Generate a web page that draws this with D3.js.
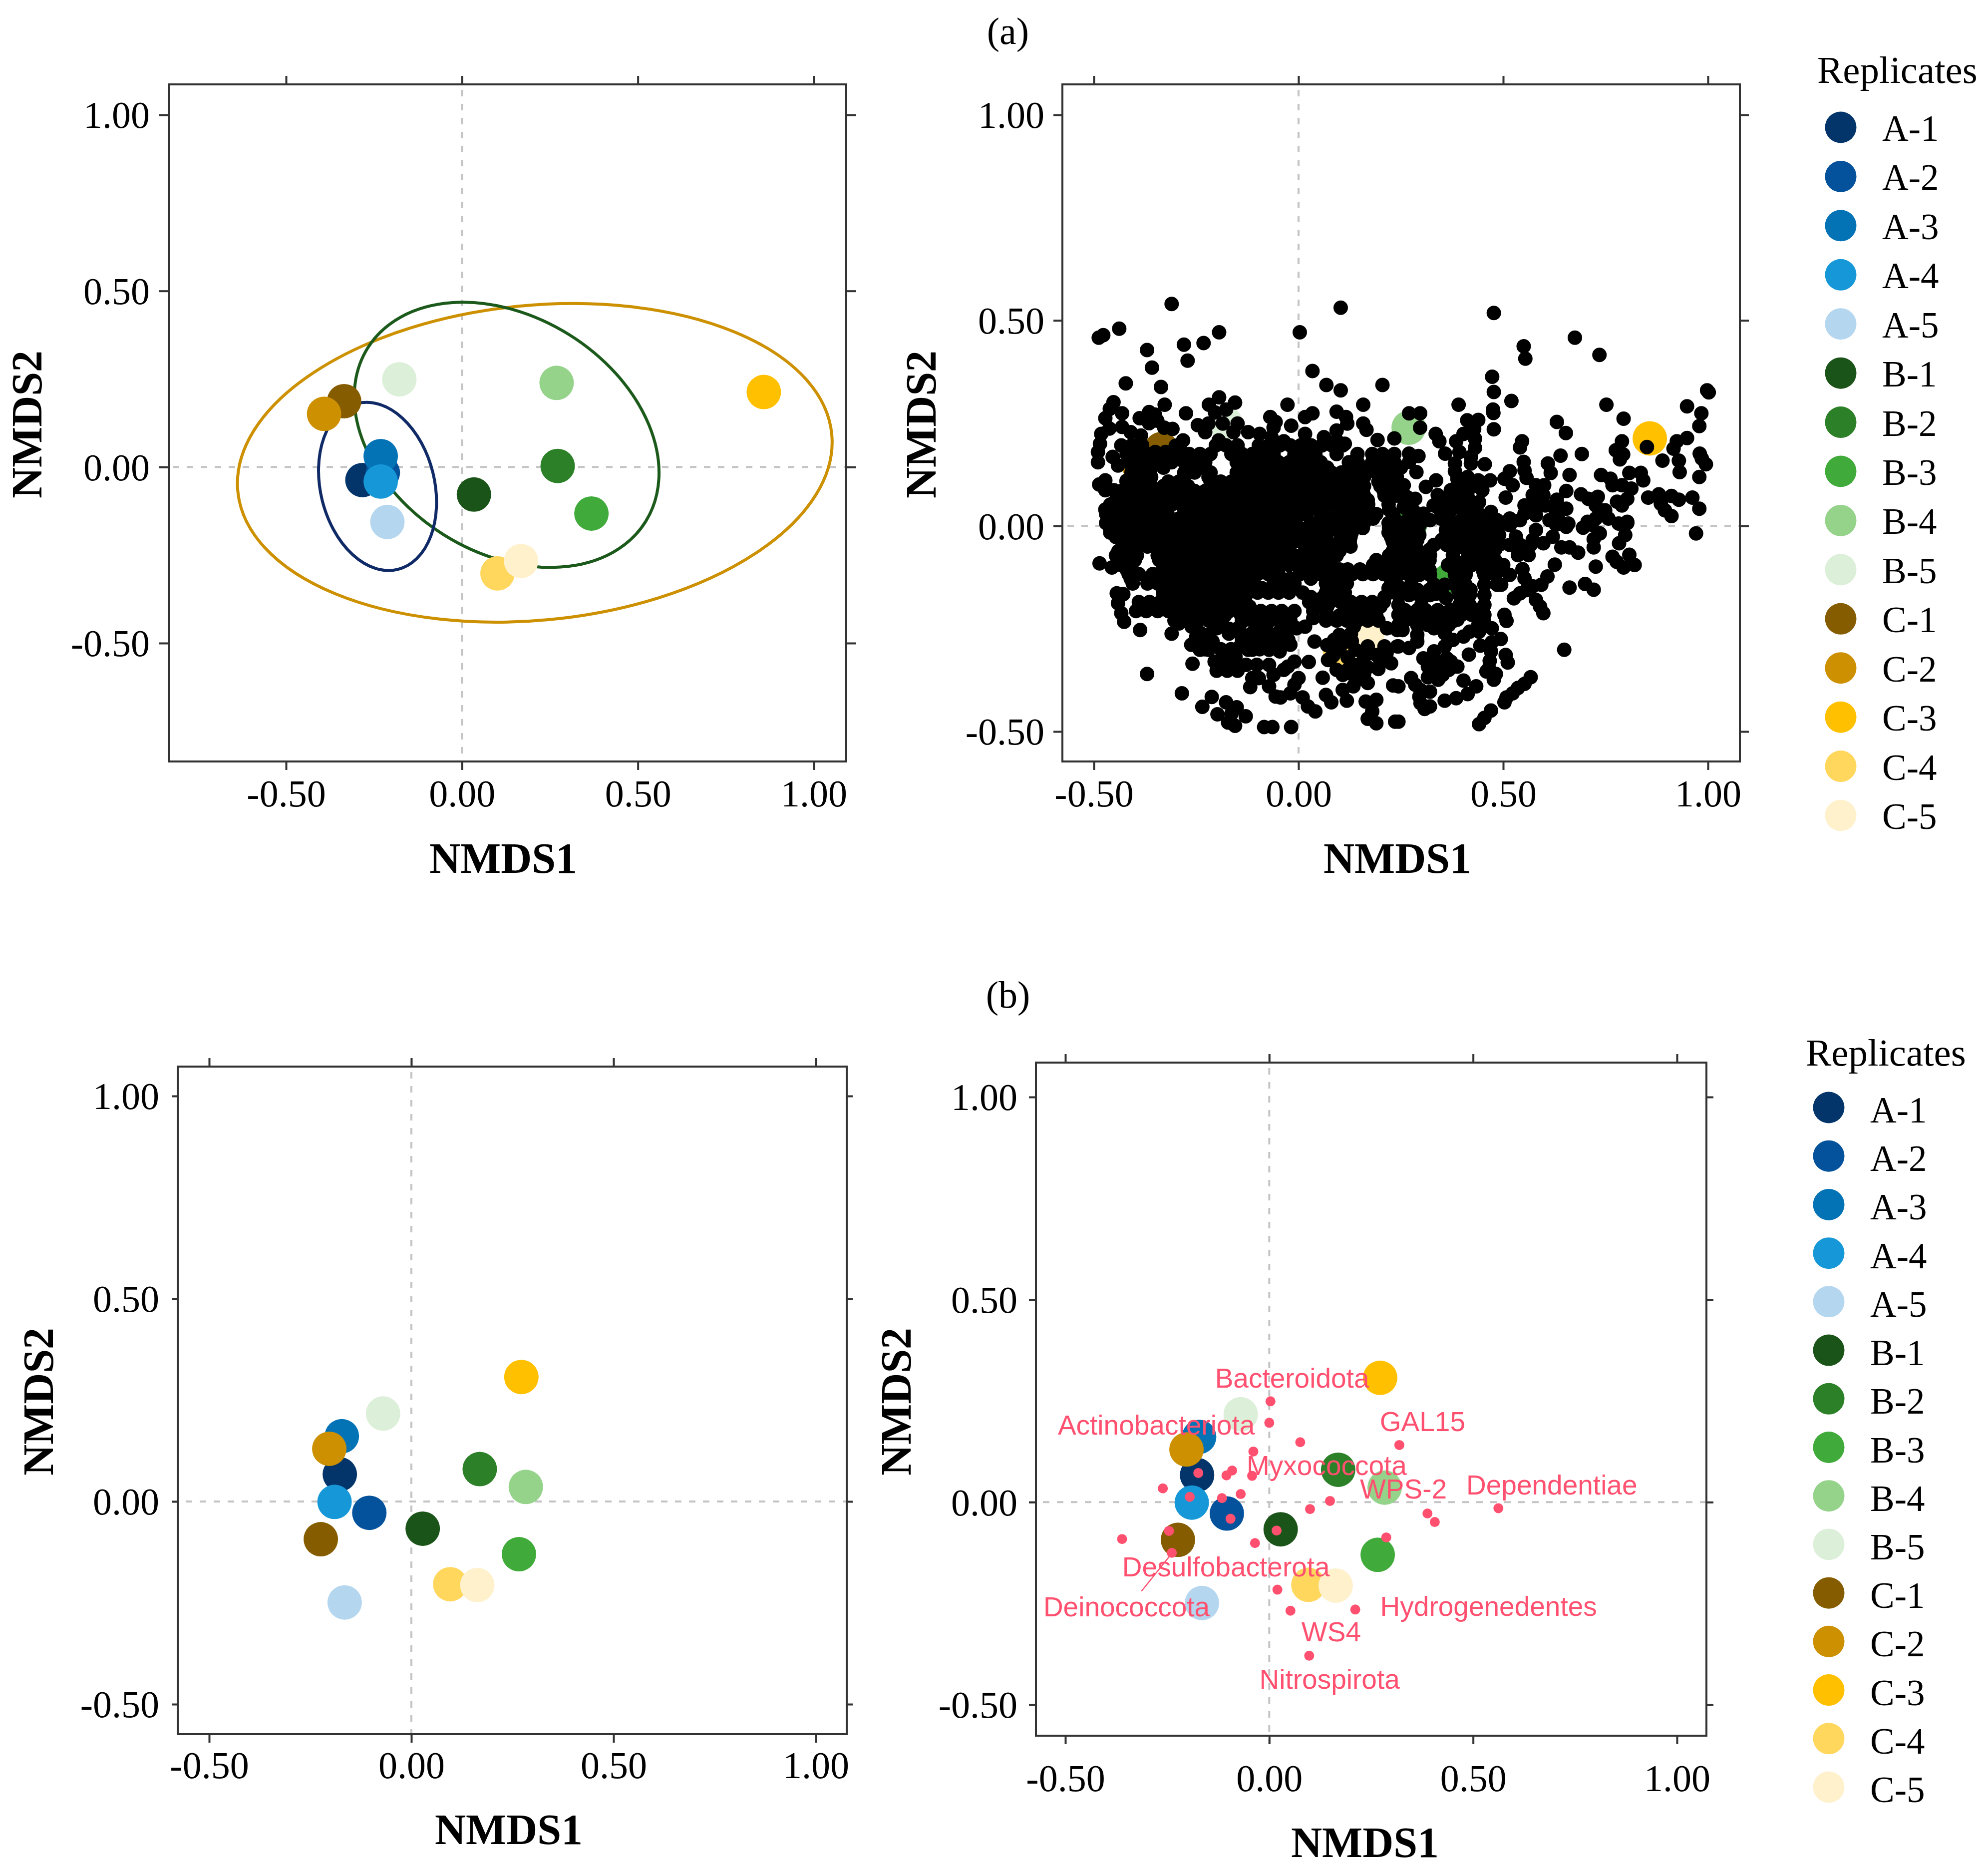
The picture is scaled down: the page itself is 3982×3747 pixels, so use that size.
<!DOCTYPE html>
<html><head><meta charset="utf-8">
<script src="https://cdn.jsdelivr.net/npm/d3@7"></script>
<style>html,body{margin:0;padding:0;background:#fff}svg{display:block}</style>
</head><body><div id="chart"></div>
<script>
const replicates=["A-1","A-2","A-3","A-4","A-5","B-1","B-2","B-3","B-4","B-5","C-1","C-2","C-3","C-4","C-5"];
const replicateColors=["#03356a","#04529c","#0473b6","#1698d8","#b4d6ef","#1b5418","#2c8028","#40ab3a","#95d38b","#dcefd8","#855d00","#cc9000","#ffc000","#ffd75d","#fff1cc"];
const tickValues=[-0.5,0,0.5,1];
const tickLabels=["-0.50","0.00","0.50","1.00"];

// NMDS coordinates of the 15 samples, upper row of panels
const sampleXa=[-0.283,-0.225,-0.231,-0.231,-0.212,0.034,0.272,0.368,0.269,-0.178,-0.335,-0.392,0.858,0.101,0.168];
const sampleYa=[-0.037,-0.016,0.031,-0.041,-0.156,-0.078,0.003,-0.132,0.239,0.249,0.187,0.151,0.213,-0.302,-0.267];
// NMDS coordinates of the 15 samples, lower row of panels
const sampleXb=[-0.177,-0.104,-0.172,-0.190,-0.165,0.028,0.169,0.266,0.283,-0.070,-0.224,-0.203,0.272,0.096,0.163];
const sampleYb=[0.067,-0.028,0.161,-0.001,-0.249,-0.067,0.080,-0.130,0.036,0.217,-0.093,0.130,0.307,-0.204,-0.206];

// Group ellipses: centre, semi-axes and tilt (degrees, counter-clockwise)
const ellipseGroups=["C","B","A"];
const ellipseCx=[0.207,0.127,-0.240];
const ellipseCy=[0.012,0.0915,-0.055];
const ellipseRx=[0.848,0.4657,0.2428];
const ellipseRy=[0.447,0.3353,0.162];
const ellipseTilt=[5.5,-32,-76.3];
const ellipseColors=["#cc9000","#1c5a1c","#0f2a66"];

// OTU points of panel (a): points that can be told apart, read one by one
const otuSeparate=[[-.310,.540],[.103,.531],[-.438,.480],[-.477,.464],[-.488,.458],[-.194,.471],[.003,.471],[-.232,.445],[-.280,.441],[-.370,.428],[-.271,.402],[-.358,.385],[.034,.377],[-.422,.347],[-.336,.338],[.068,.343],[.103,.330],[.205,.343],[-.194,.313],[-.452,.301],[-.327,.295],[-.219,.295],[-.155,.300],[-.027,.295],[.158,.295],[-.275,.274],[-.431,.274],[-.461,.285],[-.472,.262],[-.365,.277],[-.351,.271],[-.204,.276],[-.177,.283],[.034,.274],[.016,.265],[-.069,.265],[-.056,.253],[-.061,.239],[-.018,.244],[.093,.278],[.116,.265],[.119,.249],[.158,.249],[.166,.234],[.093,.232],[.193,.209],[.234,.213],[-.388,.262],[-.345,.256],[-.365,.250],
[-.482,.224],[-.462,.237],[-.431,.241],[-.410,.228],[-.385,.220],[-.328,.239],[-.308,.236],[-.282,.208],[-.195,.208],[-.123,.228],[-.095,.224],[-.066,.216],[-.036,.206],[.016,.224],[.062,.216],[.093,.208],[.113,.200],[-.246,.245],[-.220,.249],[-.228,.228],[-.185,.249],[-.149,.249],[-.159,.228],[-.485,.200],[-.490,.180],[-.490,.155],[-.454,.168],[-.441,.147],[-.472,.111],[-.487,.101],[-.472,.087],[-.451,.087],
[.477,.518],[.675,.458],[.550,.437],[.554,.407],[.735,.416],[.473,.363],[.477,.326],[.998,.330],[1.002,.325],[.520,.304],[.391,.295],[.752,.295],[.949,.291],[.475,.283],[.476,.275],[.270,.274],[.297,.274],[.984,.274],[.794,.261],[.631,.253],[.412,.257],[.439,.258],[.297,.239],[.477,.235],[.979,.243],[.653,.226],[.429,.236],[.403,.224],[.335,.224],[.344,.206],[.949,.214],[.546,.206],[.541,.191],[.385,.206],[.431,.212],[.431,.190],[.790,.206],[.924,.206],[.851,.192],[.916,.188],[.775,.184],[.793,.174],[.358,.176],[.393,.180],[.692,.175],[.640,.171],[.980,.176],[.785,.162],[.421,.168],[.985,.164],[.270,.176],[.293,.170],[.889,.159],[.929,.159],[.550,.156],[.455,.150],[.609,.152],[.995,.150],[.270,.156],[.421,.152],[.382,.152],[.382,.133],[.616,.129],[.552,.135],[.931,.131],[.288,.131],[.808,.129],[.836,.129],[.516,.133],[.662,.124],[.739,.124],[.979,.119],[.503,.115],[.762,.115],[.468,.111],[.842,.111],[.557,.117],[.336,.111],[.600,.099],[.790,.099],[.523,.099],[.580,.099],[.767,.099],[.813,.091],[.257,.099],[.311,.095],[.654,.085],[.690,.077],[.880,.077],[.911,.073],[.854,.069],[.506,.069],[.929,.064],[.962,.069],[.631,.064],[.572,.075],[.598,.075],[.803,.066],[.778,.059],[.731,.071],[.708,.066],[.885,.054],[.790,.050],[.979,.042],[.895,.038],[.552,.050],[.578,.050],[.603,.050],[.654,.042],[.626,.042],[.726,.050],[.749,.038],[.911,.024],[.580,.026],[.552,.030],[.613,.014],[.636,.014],[.659,.006],[.706,.010],[.726,.018],[.757,.018],[.803,.010],[.782,.006],[.485,.014],[.516,.018],[.459,.006],[.541,.014],
[.372,.087],[.398,.095],[.423,.095],[.449,.087],[.413,.119],[.388,.115],[.439,.111],[.362,.063],[.388,.067],[.413,.071],[.441,.058],[.372,.038],[.398,.042],[.423,.038],[.264,.071],[.285,.066],[.257,.046],[.280,.038],[.305,.030],[.321,.014],[.347,.018],[.372,.010],[.398,.014],[.423,.010],[.470,.034],[.275,.010],[.465,.006],
[.971,-.018],[.580,-.010],[.531,-.026],[.572,-.034],[.621,-.026],[.598,-.042],[.642,-.052],[.662,-.052],[.683,-.065],[.654,-.002],[.629,.003],[.695,-.004],[.716,.003],[.736,-.018],[.721,-.032],[.721,-.052],[.803,.007],[.798,-.022],[.783,-.042],[.767,-.075],[.808,-.070],[.821,-.095],[.794,-.101],[.777,-.087],[.726,-.099],[.626,-.094],[.547,-.105],[.608,-.123],[.552,-.127],[.593,-.143],[.572,-.147],[.662,-.150],[.700,-.141],[.721,-.155],[.557,-.156],[.541,-.164],[.526,-.176],[.580,-.180],[.590,-.196],[.598,-.212],[.503,-.216],[.508,-.231],[.649,-.301],[.567,-.368],[.552,-.384],[.536,-.394],[.523,-.407],[.503,-.429],[.508,-.417],[.470,-.449],[.454,-.467],[.441,-.482],[.511,-.332],[.506,-.314],[.494,-.275],[.472,-.283],[.444,-.291],[.470,-.305],[.467,-.328],[.465,-.346],[.459,-.354],[.482,-.360],[.477,-.374],[.472,-.249],[.452,-.230],[.441,-.257],[.416,-.313],[.403,-.376],[.434,-.390],[.413,-.409],[.385,-.419],[.357,-.425],[.321,-.403],[.298,-.399],[.275,-.370],[.285,-.386],[.295,-.415],[.298,-.431],[.321,-.439],[.308,-.445],[.244,-.476],[.244,-.390],[.290,-.265],[.290,-.281],[.270,-.297],[.244,-.293],[.254,-.253],
[.305,-.322],[.331,-.305],[.357,-.293],[.377,-.277],[.357,-.261],[.331,-.249],[.362,-.237],[.403,-.269],[.418,-.257],[.388,-.228],[.331,-.326],[.362,-.322],[.388,-.342],[.372,-.330],[.316,-.342],[.341,-.342],[.326,-.362],[.352,-.362],[.367,-.350],[.316,-.368],[.341,-.374],
[-.486,-.091],[-.456,-.101],[-.444,-.164],[-.428,-.166],[-.441,-.188],[-.433,-.212],[-.426,-.233],[-.387,-.253],[-.310,-.262],[-.370,-.360],[-.285,-.407],[-.259,-.335],[-.212,-.416],[-.235,-.440],[-.198,-.458],[-.177,-.429],[-.151,-.441],[-.164,-.457],[-.129,-.463],[-.172,-.478],[-.155,-.486],[-.084,-.489],[-.064,-.489],[-.018,-.489],[.010,-.417],[.023,-.439],[.041,-.451],[.025,-.331],[.059,-.369],[.067,-.411],[.080,-.429],[.236,-.476],[.231,-.388],[.190,-.480],[.169,-.469],[.180,-.451],[.190,-.423],[.164,-.427],[.118,-.425],[.108,-.399],[.134,-.390],[.169,-.382],[.144,-.374],[.108,-.362],[.093,-.350],[.072,-.326],[.087,-.297],[.087,-.277],[.144,-.338],[.169,-.344],[.195,-.348],[.226,-.334],[.190,-.314],[.118,-.281],[.139,-.301],[.169,-.293],[.210,-.293],[.241,-.293],[.241,-.253],[.216,-.249],[.036,-.224],[.016,-.245],[.039,-.281],[-.005,-.249],
[-.262,-.289],[-.241,-.301],[-.220,-.301],[-.261,-.245],[-.231,-.277],[-.292,-.237],[-.200,-.249],[-.210,-.281],[-.205,-.330],[-.179,-.318],[-.154,-.318],[-.123,-.301],[-.200,-.352],[-.174,-.352],[-.149,-.352],[-.128,-.338],[-.102,-.338],[-.113,-.301],[-.138,-.277],[-.108,-.277],[-.077,-.277],[-.051,-.277],[-.025,-.277],[-.072,-.301],[-.046,-.305],[-.020,-.289],[-.102,-.245],[-.072,-.261],[-.020,-.245],[-.087,-.224],[-.113,-.224],[-.138,-.233],[-.195,-.224],[-.113,-.370],[-.118,-.392],[-.097,-.370],[-.072,-.390],[-.056,-.415],[-.044,-.417],[-.020,-.407],[.000,-.370],[-.010,-.386],[-.061,-.362],[-.036,-.350],[-.010,-.330],[-.072,-.338],[-.026,-.342],
[-.170,-.250],[-.150,-.250],[-.240,-.260],[-.220,-.265],[-.190,-.300],[-.165,-.300],[-.145,-.295],[-.095,-.300],[-.090,-.260],[-.045,-.255],[-.045,-.230],[-.070,-.230],[-.175,-.330],[-.150,-.335],[-.230,-.300],[-.250,-.270],[.160,-.320],[.120,-.350],[.160,-.360],[.200,-.330],[.215,-.310],[.130,-.360],[.380,.090],[.340,.075],[.360,.040],[.330,.050],[.410,.050],[.440,.030],[.345,.040],[-.325,.180],[-.420,.110],[-.400,.125],[.100,-.300],[.080,-.320],[.120,-.320],[.070,-.290],[.130,-.280],[.100,-.265],[.085,-.315],[.128,-.262],[.135,-.245],[.360,-.175],[.365,-.095],[.335,-.165],[.295,.025],[.285,.000],[.270,.020],
[-.300,.195],[-.300,.175],[-.350,.180],[-.330,.165],[-.310,.155],[-.415,.155],[-.420,.175]];

// OTU points of panel (a) where the cloud is saturated: single points cannot be
// told apart there, so these rows are estimates that follow the solid black area
const otuDenseRows=[
[.196,[-.433,-.408,-.382,-.290,-.202,-.177,-.149,-.097,-.072,-.046,-.020,.005,.031,.057,.082,.108]],
[.175,[-.395,-.369,-.267,-.241,-.215,-.164,-.138,-.113,-.087,-.061,-.010,.016,.041,.093,.144,.180,.205,.234]],
[.155,[-.408,-.382,-.356,-.331,-.279,-.254,-.228,-.151,-.125,-.100,-.074,-.049,-.023,.003,.028,.054,.123,.144,.180,.205,.234]],
[.142,[-.39,-.36,-.33,-.27,-.24,-.14,-.11,-.08,-.05,-.02,.01,.04,.07,.13,.16,.19,.22,.25]],
[.130,[-.408,-.382,-.279,-.254,-.215,-.151,-.125,-.100,-.074,-.049,-.023,.003,.028,.054,.080,.105,.131,.190,.234]],
[.119,[-.39,-.36,-.28,-.22,-.14,-.11,-.08,-.05,-.02,.01,.04,.07,.10,.13,.16,.20,.24]],
[.108,[-.420,-.395,-.369,-.318,-.292,-.215,-.190,-.164,-.138,-.113,-.087,-.061,-.036,-.010,.016,.041,.067,.093,.118,.144,.195,.221]],
[.097,[-.42,-.39,-.36,-.33,-.30,-.27,-.20,-.17,-.14,-.11,-.08,-.05,-.02,.01,.04,.07,.10,.13,.16,.20,.23]],
[.085,[-.433,-.408,-.382,-.356,-.331,-.305,-.279,-.254,-.228,-.202,-.177,-.151,-.125,-.100,-.074,-.049,-.023,.003,.028,.054,.080,.105,.131,.157,.208,.234]],
[.074,[-.44,-.41,-.38,-.35,-.32,-.29,-.26,-.23,-.20,-.17,-.14,-.11,-.08,-.05,-.02,.01,.04,.07,.10,.13,.16,.21,.24]],
[.063,[-.446,-.420,-.395,-.369,-.344,-.318,-.292,-.267,-.241,-.215,-.190,-.164,-.138,-.113,-.087,-.061,-.036,-.010,.016,.041,.067,.093,.118,.144,.169,.221]],
[.052,[-.46,-.43,-.40,-.37,-.34,-.31,-.28,-.25,-.22,-.19,-.16,-.13,-.10,-.07,-.04,-.01,.02,.05,.08,.11,.14,.17,.22]],
[.040,[-.472,-.433,-.408,-.382,-.356,-.331,-.279,-.254,-.228,-.202,-.177,-.151,-.125,-.100,-.074,-.049,-.023,.003,.028,.054,.105,.144,.169,.221]],
[.029,[-.47,-.44,-.41,-.38,-.35,-.32,-.26,-.23,-.20,-.17,-.14,-.11,-.08,-.05,-.02,.01,.06,.10,.13,.16,.19,.23]],
[.018,[-.459,-.420,-.395,-.369,-.344,-.318,-.292,-.267,-.241,-.215,-.190,-.164,-.138,-.113,-.087,-.061,-.036,-.010,.054,.080,.105,.131,.157,.182,.234]],
[.007,[-.47,-.44,-.41,-.38,-.35,-.32,-.29,-.26,-.23,-.20,-.17,-.14,-.11,-.08,-.05,-.02,.03,.07,.10,.13,.16,.22,.25]],
[-.005,[-.461,-.433,-.408,-.382,-.356,-.331,-.305,-.279,-.254,-.228,-.202,-.177,-.151,-.125,-.100,-.074,-.049,-.023,.003,.028,.054,.080,.105,.131,.157,.221,.246]],
[-.016,[-.46,-.43,-.40,-.37,-.34,-.31,-.28,-.25,-.22,-.19,-.16,-.13,-.10,-.07,-.04,-.01,.02,.05,.10,.13,.22,.25]],
[-.027,[-.446,-.420,-.395,-.369,-.344,-.318,-.292,-.267,-.241,-.215,-.190,-.164,-.138,-.113,-.087,-.061,-.036,-.010,.016,.041,.067,.127,.226,.246]],
[-.038,[-.43,-.40,-.37,-.34,-.31,-.28,-.25,-.22,-.19,-.16,-.13,-.10,-.07,-.04,-.01,.02,.05,.07,.10,.125,.23]],
[-.050,[-.395,-.369,-.344,-.318,-.292,-.267,-.241,-.215,-.190,-.164,-.138,-.113,-.087,-.061,-.036,.016,.041,.067,.093,.127,.234]],
[-.061,[-.44,-.41,-.33,-.30,-.27,-.24,-.21,-.18,-.15,-.12,-.09,-.06,-.03,.02,.05,.08,.10,.23]],
[-.072,[-.446,-.420,-.395,-.344,-.318,-.292,-.267,-.241,-.215,-.190,-.164,-.138,-.113,-.087,-.061,-.036,-.010,.016,.041,.067,.093,.221,.246]],
[-.083,[-.43,-.40,-.34,-.31,-.28,-.25,-.22,-.19,-.16,-.13,-.10,-.07,-.04,-.01,.02,.05,.07,.19,.22,.25]],
[-.095,[-.433,-.408,-.331,-.305,-.279,-.254,-.228,-.202,-.177,-.151,-.125,-.100,-.074,-.049,-.023,.003,.028,.054,.080,.182,.208,.234]],
[-.106,[-.42,-.33,-.30,-.27,-.24,-.21,-.18,-.15,-.12,-.09,-.06,.01,.04,.07,.10,.12,.15,.18,.21,.24]],
[-.117,[-.415,-.390,-.356,-.331,-.305,-.279,-.254,-.228,-.202,-.177,-.151,-.125,-.100,-.074,-.049,.003,.028,.054,.080,.105,.131,.157,.182,.208,.234]],
[-.128,[-.41,-.36,-.33,-.30,-.27,-.24,-.21,-.18,-.15,-.12,-.05,-.02,.03,.08,.11,.23]],
[-.140,[-.405,-.369,-.344,-.318,-.292,-.267,-.241,-.215,-.190,-.164,-.138,-.113,-.061,-.036,-.010,.067,.093,.118,.226]],
[-.151,[-.33,-.30,-.27,-.24,-.21,-.18,-.15,-.12,-.09,-.06,-.03,.07,.11,.22,.25]],
[-.162,[-.331,-.305,-.279,-.254,-.228,-.202,-.177,-.151,-.125,-.100,-.074,-.049,-.023,.010,.067,.113,.221]],
[-.173,[-.33,-.30,-.27,-.24,-.21,-.18,-.15,-.13,.03,.06,.09,.21]],
[-.185,[-.390,-.364,-.338,-.313,-.287,-.261,-.236,-.210,-.185,-.159,-.134,.026,.051,.077,.103,.128,.154,.180,.208]],
[-.196,[-.39,-.36,-.33,-.30,-.27,-.24,-.21,-.18,-.15,-.12,.04,.07,.12,.16,.20]],
[-.207,[-.397,-.372,-.344,-.318,-.272,-.246,-.220,-.195,-.169,-.143,-.118,-.092,-.066,-.041,-.010,.036,.067,.134,.185]],
[-.218,[-.30,-.27,-.24,-.21,-.18,-.14,-.11,-.08,-.02,.07,.10,.13,.16,.19]],
[-.230,[-.303,-.272,-.246,-.220,-.195,-.138,-.113,-.087,-.020,.067,.093,.118,.144,.169,.195,.251]],
[-.262,[-.17,-.14,-.115]],
[.002,[.244,.270,.295,.362,.388,.413,.439,.465,.490,.516]],
[-.010,[.26,.29,.36,.39,.42,.45,.48]],
[-.022,[.244,.270,.295,.367,.393,.418,.444,.465,.490]],
[-.034,[.26,.29,.35,.38,.41,.44,.47]],
[-.046,[.244,.270,.331,.362,.388,.413,.439,.465,.490,.516,.541,.567]],
[-.058,[.26,.29,.32,.38,.41,.45,.48]],
[-.071,[.244,.270,.295,.321,.377,.439,.475,.536,.562]],
[-.083,[.26,.29,.32,.38,.41,.45,.48]],
[-.095,[.244,.270,.295,.377,.403,.423,.449,.475,.500]],
[-.107,[.26,.29,.32,.38,.41,.45,.50]],
[-.119,[.244,.270,.295,.321,.382,.408,.454,.480,.516]],
[-.143,[.275,.331,.357,.382,.408,.454,.485,.495]],
[-.155,[.26,.29,.32,.39,.42]],
[-.168,[.244,.270,.295,.321,.393,.418,.454]],
[-.192,[.244,.300,.393,.418,.454]],
[-.205,[.26,.29,.31,.34,.37,.40,.44]],
[-.216,[.244,.270,.295,.321,.346,.372,.398,.423,.454]],
[-.230,[.26,.29,.32,.35,.38]],
[-.241,[.244,.290,.316,.341,.367,.439]]
];

// Phylum points of panel (b), lower right
const phylumPoints=[[.003,.249],[.000,.196],[.076,.148],[-.039,.125],[.319,.141],[-.174,.072],[-.091,.078],[-.105,.066],[-.042,.065],[-.261,.034],[-.070,.020],[-.195,.013],[-.116,.010],[.149,.003],[.100,-.017],[.388,-.028],[.406,-.049],[.562,-.015],[-.095,-.041],[.018,-.070],[-.246,-.071],[-.361,-.091],[-.035,-.101],[.287,-.087],[-.239,-.125],[.020,-.216],[.052,-.268],[.211,-.265],[.098,-.379]];
const phylumNames=["Bacteroidota","Actinobacteriota","GAL15","Myxococcota","WPS-2","Dependentiae","Desulfobacterota","Deinococcota","Hydrogenedentes","WS4","Nitrospirota"];
const phylumLabelX=[0.056,-0.277,0.376,0.141,0.329,0.693,-0.106,-0.350,0.538,0.152,0.148];
const phylumLabelY=[0.306,0.190,0.198,0.090,0.032,0.042,-0.160,-0.259,-0.257,-0.321,-0.438];
const phylumLeader=[[-0.3135,-0.220],[-0.245,-0.134]];

const W=3982,H=3747,SERIF="'Liberation Serif',serif",SANS="'Liberation Sans',sans-serif",PHYLUM="#ff5070";
const svg=d3.select("#chart").append("svg").attr("width",W).attr("height",H).attr("viewBox",[0,0,W,H]).style("background","#fff");

function panel(c){
  const g=svg.append("g");
  const x=d3.scaleLinear().domain([-0.5,1]).range(c.xr);
  const y=d3.scaleLinear().domain([-0.5,1]).range(c.yr);
  const f=c.frame;
  g.append("line").attr("x1",x(0)).attr("x2",x(0)).attr("y1",f.t-c.tickV).attr("y2",f.b+c.tickV)
    .attr("stroke","#c4c4c4").attr("stroke-width",4).attr("stroke-dasharray","13 15");
  g.append("line").attr("y1",y(0)).attr("y2",y(0)).attr("x1",f.l-c.tickH).attr("x2",f.r+c.tickH)
    .attr("stroke","#c4c4c4").attr("stroke-width",4).attr("stroke-dasharray","13 15");
  const fmt=d=>tickLabels[tickValues.indexOf(d)];
  const style=a=>{a.selectAll("path").remove();a.selectAll("line").attr("stroke","#333").attr("stroke-width",4);};
  g.append("g").attr("transform",`translate(0,${f.b})`).call(d3.axisBottom(x).tickValues(tickValues).tickSize(c.tickV).tickFormat(fmt)).call(style)
    .call(a=>a.selectAll("text").attr("y",c.xBase-f.b).attr("dy",0).attr("font-family",SERIF).attr("font-size",76).attr("fill","#000"));
  g.append("g").attr("transform",`translate(0,${f.t})`).call(d3.axisTop(x).tickValues(tickValues).tickSize(c.tickV).tickFormat("")).call(style);
  g.append("g").attr("transform",`translate(${f.l},0)`).call(d3.axisLeft(y).tickValues(tickValues).tickSize(c.tickH).tickFormat(fmt)).call(style)
    .call(a=>a.selectAll("text").attr("x",c.yEnd-f.l).attr("dy","0.34em").attr("font-family",SERIF).attr("font-size",76).attr("fill","#000"));
  g.append("g").attr("transform",`translate(${f.r},0)`).call(d3.axisRight(y).tickValues(tickValues).tickSize(c.tickH).tickFormat("")).call(style);
  g.append("rect").attr("x",f.l).attr("y",f.t).attr("width",f.r-f.l).attr("height",f.b-f.t).attr("fill","none").attr("stroke","#333").attr("stroke-width",4);
  g.append("text").attr("x",c.xTitle[0]).attr("y",c.xTitle[1]).attr("text-anchor","middle").attr("font-family",SERIF).attr("font-weight","bold").attr("font-size",86).text("NMDS1");
  g.append("text").attr("transform",`translate(${c.yTitle[0]},${c.yTitle[1]}) rotate(-90)`).attr("text-anchor","middle").attr("font-family",SERIF).attr("font-weight","bold").attr("font-size",86).text("NMDS2");
  return {g,x,y};
}
function samples(p,xs,ys){
  p.g.append("g").selectAll("circle").data(replicates).join("circle")
    .attr("cx",(d,i)=>p.x(xs[i])).attr("cy",(d,i)=>p.y(ys[i])).attr("r",34.5).attr("fill",(d,i)=>replicateColors[i]);
}
function legend(cfg){
  svg.append("text").attr("x",cfg.titleX).attr("y",cfg.titleY).attr("font-family",SERIF).attr("font-size",77).text("Replicates");
  const ly=d3.scalePoint().domain(replicates).range([cfg.y0,cfg.y1]);
  const g=svg.append("g");
  g.selectAll("circle").data(replicates).join("circle").attr("cx",cfg.cx).attr("cy",d=>ly(d)).attr("r",31.5).attr("fill",(d,i)=>replicateColors[i]);
  g.selectAll("text").data(replicates).join("text").attr("x",cfg.tx).attr("y",d=>ly(d)+cfg.dy).attr("font-family",SERIF).attr("font-size",73).text(d=>d);
}

// (a) left
const p1=panel({frame:{l:338,r:1695,t:169,b:1525},xr:[573,1630],yr:[1288,230],tickV:17,tickH:20,yEnd:300,xBase:1615,xTitle:[1008,1748],yTitle:[83,850]});
p1.g.append("g").selectAll("ellipse").data(ellipseGroups).join("ellipse")
  .attr("cx",(d,i)=>p1.x(ellipseCx[i])).attr("cy",(d,i)=>p1.y(ellipseCy[i]))
  .attr("rx",(d,i)=>p1.x(ellipseRx[i])-p1.x(0)).attr("ry",(d,i)=>p1.y(0)-p1.y(ellipseRy[i]))
  .attr("transform",(d,i)=>`rotate(${-ellipseTilt[i]},${p1.x(ellipseCx[i])},${p1.y(ellipseCy[i])})`)
  .attr("fill","none").attr("stroke",(d,i)=>ellipseColors[i]).attr("stroke-width",6);
samples(p1,sampleXa,sampleYa);

// (a) right
const p2=panel({frame:{l:2128,r:3485,t:169,b:1525},xr:[2191,3421],yr:[1465,230],tickV:17,tickH:18,yEnd:2092,xBase:1615,xTitle:[2799,1748],yTitle:[1874,850]});
samples(p2,sampleXa,sampleYa);
const otuPoints=otuSeparate.concat(otuDenseRows.flatMap(r=>r[1].map(v=>[v,r[0]])));
p2.g.append("g").selectAll("circle").data(otuPoints).join("circle").attr("cx",d=>p2.x(d[0])).attr("cy",d=>p2.y(d[1])).attr("r",14.5).attr("fill","#000");

// (b) left
const p3=panel({frame:{l:356,r:1696,t:2136,b:3473},xr:[419,1634],yr:[3413,2195],tickV:17,tickH:12,yEnd:319,xBase:3561,xTitle:[1019,3693],yTitle:[106,2807]});
samples(p3,sampleXb,sampleYb);

// (b) right
const p4=panel({frame:{l:2075,r:3418,t:2128,b:3476},xr:[2134,3359],yr:[3414,2197],tickV:17,tickH:14,yEnd:2038,xBase:3587,xTitle:[2734,3719],yTitle:[1824,2807]});
samples(p4,sampleXb,sampleYb);
p4.g.append("line").attr("x1",p4.x(phylumLeader[0][0])).attr("y1",p4.y(phylumLeader[0][1])).attr("x2",p4.x(phylumLeader[1][0])).attr("y2",p4.y(phylumLeader[1][1])).attr("stroke",PHYLUM).attr("stroke-width",2.5);
p4.g.append("g").selectAll("circle").data(phylumPoints).join("circle").attr("cx",d=>p4.x(d[0])).attr("cy",d=>p4.y(d[1])).attr("r",10).attr("fill",PHYLUM);
p4.g.append("g").selectAll("text").data(phylumNames).join("text").attr("x",(d,i)=>p4.x(phylumLabelX[i])).attr("y",(d,i)=>p4.y(phylumLabelY[i])).attr("dy","0.34em").attr("text-anchor","middle").attr("font-family",SANS).attr("font-size",55).attr("fill",PHYLUM).text(d=>d);

legend({titleX:3640,titleY:166,cx:3687,tx:3770,y0:255,y1:1633,dy:27});
legend({titleX:3617,titleY:2134,cx:3663,tx:3746,y0:2218,y1:3579,dy:30});

[["(a)",2019,88],["(b)",2019,2018]].forEach(t=>svg.append("text").attr("x",t[1]).attr("y",t[2]).attr("text-anchor","middle").attr("font-family",SERIF).attr("font-size",76).text(t[0]));
</script></body></html>
